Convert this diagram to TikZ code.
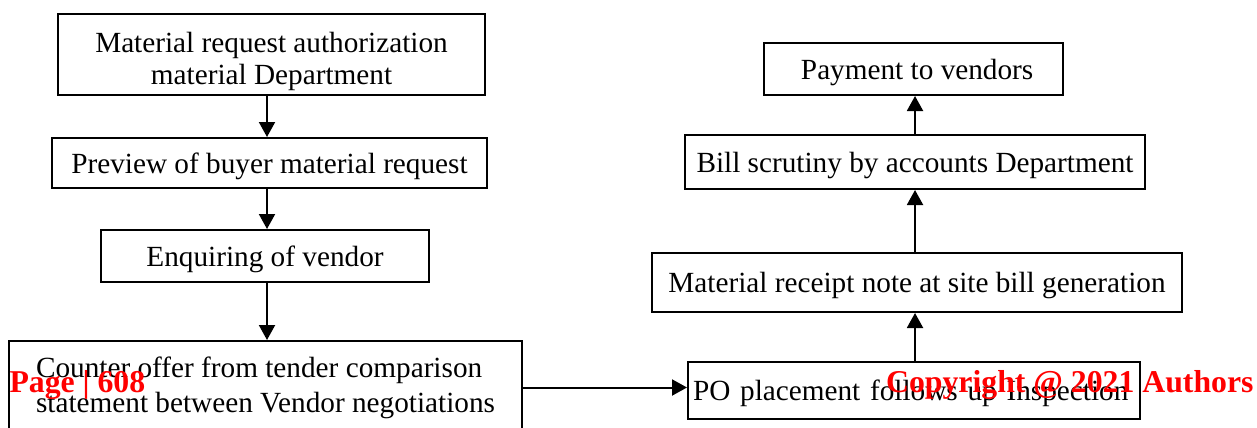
\documentclass[tikz,border=0pt]{standalone}
\usepackage{fontspec}
\setmainfont{Liberation Serif}
\usetikzlibrary{arrows.meta}
\tikzset{stagebox/.style={draw, line width=0.8pt, inner sep=0pt, font=\fontsize{11.7}{14}\selectfont}}
\tikzset{onerow/.style={stagebox, text height=8pt, text depth=0pt}}
\tikzset{flow/.style={-{Triangle[width=6.4pt,length=6pt]}, line width=0.8pt}}
\tikzset{stamp/.style={text=red, inner sep=0pt, font=\fontsize{12.7}{15}\selectfont\bfseries}}

\begin{document}
\begin{tikzpicture}[x=0.4pt,y=-0.4pt]
\useasboundingbox (0,0) rectangle (1257,427);
\clip (0,0) rectangle (1257,427);
\coordinate (lcol) at (267,0);
\coordinate (rcol) at (915,0);
\node[stagebox, font=\fontsize{11.7}{12.8}\selectfont, align=center, minimum width=170.8pt, minimum height=32.4pt] (req) at (271.5,54.5) {\rule{0pt}{14pt}Material request authorization\\material Department};
\node[onerow, minimum width=174pt, minimum height=20pt] (prev) at (269.5,163) {Preview of buyer material request};
\node[onerow, minimum width=131.2pt, minimum height=20.8pt] (enq) at (265,256) {Enquiring of vendor};
\node[stagebox, align=left, minimum width=205.2pt, minimum height=37.2pt] (offer) at (265.5,387.5) {Counter offer from tender comparison\\statement between Vendor negotiations};
\node[onerow, inner xsep=2pt, text width=176.8pt, align=left, minimum height=22.8pt] (po) at (914,390.5) {PO placement follows up Inspection};
\node[onerow, minimum width=212pt, minimum height=23.6pt] (rcpt) at (917,282.5) {Material receipt note at site bill generation};
\node[onerow, minimum width=184pt, minimum height=21.6pt] (bill) at (915,162) {Bill scrutiny by accounts Department};
\node[onerow, minimum width=119.6pt, minimum height=20.8pt] (pay) at (913.5,69) {\ Payment to vendors};
\draw[flow] (req.south -| lcol) -- (prev.north -| lcol);
\draw[flow] (prev.south -| lcol) -- (enq.north -| lcol);
\draw[flow] (enq.south -| lcol) -- (offer.north -| lcol);
\draw[flow] (offer.east) -- (offer.east -| po.west);
\draw[flow] (po.north -| rcol) -- (rcpt.south -| rcol);
\draw[flow] (rcpt.north -| rcol) -- (bill.south -| rcol);
\draw[flow] (bill.north -| rcol) -- (pay.south -| rcol);
\node[stamp, anchor=base west] (pagenum) at (9,392) {Page | 608};
\node[stamp, anchor=base east] (rights) at (1254,392) {Copyright @ 2021 Authors};
\end{tikzpicture}
\end{document}
